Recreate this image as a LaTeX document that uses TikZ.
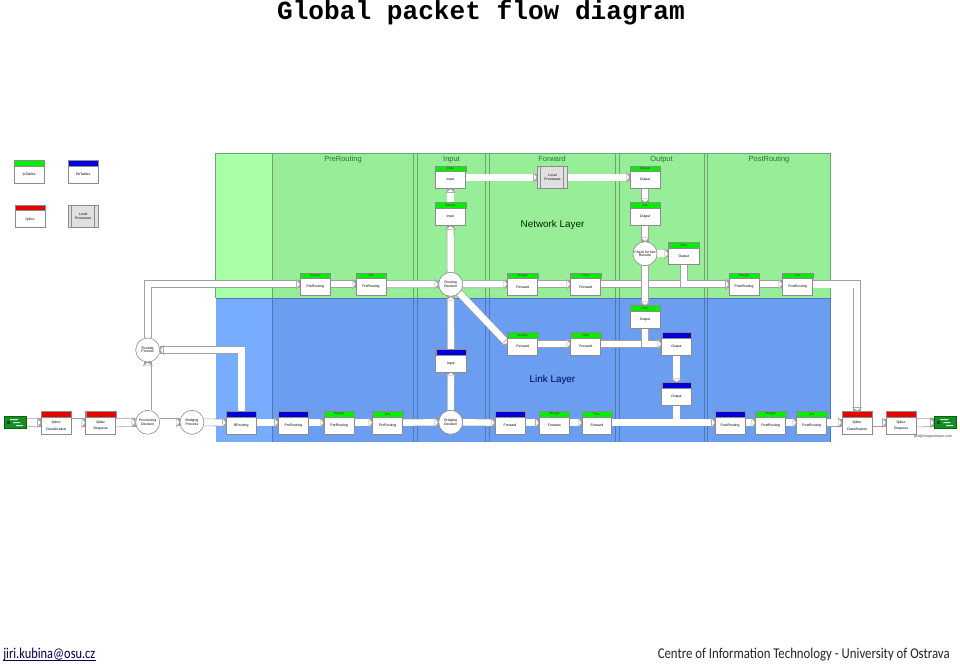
\documentclass[tikz,border=0pt]{standalone}
\usepackage{fontspec}
\usepackage{graphicx}
\setmainfont{Liberation Sans}
\newfontfamily\titlefont{Liberation Mono}
\newfontfamily\handfont{Carlito}
\usetikzlibrary{arrows.meta,calc}
\pgfdeclarelayer{bglayer}
\pgfdeclarelayer{flowlayer}
\pgfsetlayers{bglayer,flowlayer,main}
\definecolor{gbar}{HTML}{00F000}
\definecolor{bbar}{HTML}{0000D8}
\definecolor{rbar}{HTML}{E80000}
\definecolor{netfill}{HTML}{98EE98}
\definecolor{netlight}{HTML}{A8FFA8}
\definecolor{linkfill}{HTML}{6B9EF0}
\definecolor{linklight}{HTML}{78ACFF}
\definecolor{frameg}{HTML}{6FA56F}
\definecolor{frameb}{HTML}{4F78B8}
\definecolor{edgegray}{HTML}{8C8C8C}
\definecolor{flowgray}{HTML}{A0A0A0}
\definecolor{nicgreen}{HTML}{1A8A2A}
\definecolor{captiong}{HTML}{2F6A3A}
\newcommand{\fs}[1]{\fontsize{#1}{#1}\selectfont}
\tikzset{
  x=0.75pt,y=-0.75pt,
  pxbox/.style={draw=edgegray,line width=0.45pt,fill=white,inner sep=0pt,outer sep=0pt,align=center,font=\fs{2.6}},
  hdrbar/.style={draw=edgegray,line width=0.3pt,inner sep=0pt,outer sep=0pt,font=\fs{2.4},text=black!75},
  roundnode/.style={circle,draw=edgegray,line width=0.45pt,fill=white,inner sep=0pt,outer sep=0pt,minimum size=18pt,align=center,font=\fs{2.6}},
  coltitle/.style={font=\fs{5.6},text=captiong,inner sep=0pt,anchor=base},
  layertitle/.style={font=\fs{7.4},inner sep=0pt},
  flowtip/.style={-{Triangle[length=3pt,width=8pt,fill=white,color=flowgray,line width=0.35pt]}}
}
\newcommand{\pfbox}[8]{%
  \node[pxbox,minimum width={(#4-#2)*0.75pt},minimum height={(#5-#3)*0.75pt}] (#1) at ({(#2+#4)/2},{(#3+#5)/2}) {};
  \node[hdrbar,fill=#6,minimum width={(#4-#2)*0.75pt},minimum height=4.2pt,anchor=north] (#1h) at (#1.north) {#7};
  \node[font=\fs{2.6},align=center,inner sep=0pt] (#1t) at ($(#1h.south)!0.5!(#1.south)$) {#8};
}
\newcommand{\lpbox}[6]{%
  \node[pxbox,fill=black!12,minimum width={(#4-#2)*0.75pt},minimum height={(#5-#3)*0.75pt}] (#1) at ({(#2+#4)/2},{(#3+#5)/2}) {#6};
  \draw[edgegray,line width=0.45pt] ($(#1.north west)+(3.2,0)$) -- ($(#1.south west)+(3.2,0)$)
     ($(#1.north east)+(-4.2,0)$) -- ($(#1.south east)+(-4.2,0)$);
}
\newcommand{\flow}[2][6.6]{%
  \begin{pgfonlayer}{flowlayer}
    \draw[flowgray,line width={(#1+1)*0.75pt},line join=miter] #2;
    \draw[white,line width={(#1-0.2)*0.75pt},line join=miter,flowtip] #2;
  \end{pgfonlayer}
}
\begin{document}
\begin{tikzpicture}
\useasboundingbox (0,0) rectangle (960,666);
% backgrounds
\begin{pgfonlayer}{bglayer}
\fill[white] (0,0) rectangle (960,666);
\fill[netlight] (215.5,153.3) rectangle (272.7,298);
\fill[netfill] (272.7,153.3) rectangle (830.5,298);
\fill[linklight] (215.5,298) rectangle (272.7,441.7);
\fill[linkfill] (272.7,298) rectangle (830.5,441.7);
\foreach \xa in {272.7,413.7,417.3,485.7,489.3,615.7,619.3,704.3,707.7}{
  \draw[frameg,line width=0.4pt] (\xa,153.3) -- (\xa,298);
  \draw[frameb,line width=0.4pt] (\xa,298) -- (\xa,441.7);
}
\draw[frameg,line width=0.5pt] (215.5,298) -- (215.5,153.3) -- (830.5,153.3) -- (830.5,298);
\draw[frameb,line width=0.7pt] (215.5,298) -- (830.5,298) (830.5,298) -- (830.5,441.7);
\end{pgfonlayer}
% title and captions
\node[font=\titlefont\bfseries\fs{19.6},inner sep=0pt,anchor=base] (ttl) at (481,19.5) {Global packet flow diagram};
\node[coltitle] (c1) at (343,162) {PreRouting};
\node[coltitle] (c2) at (451.5,162) {Input};
\node[coltitle] (c3) at (552,162) {Forward};
\node[coltitle] (c4) at (661.5,162) {Output};
\node[coltitle] (c5) at (769,162) {PostRouting};
\node[layertitle,text=black!85!green] (nl) at (552.5,225) {Network Layer};
\node[layertitle,text=blue!35!black] (ll) at (552.5,380) {Link Layer};
\node[font=\fs{2.7},inner sep=0pt,text=black!75] (mail) at (933,436.3) {phil@imagestream.com};
% legend
\pfbox{lgip}{14.3}{160.3}{44}{183}{gbar}{}{IpTables}
\pfbox{lgeb}{68.3}{160.3}{98}{183}{bbar}{}{EbTables}
\pfbox{lgq}{15.3}{205}{45}{227.7}{rbar}{}{Qdisc}
\lpbox{lglp}{68.3}{205}{98}{227.7}{Local\\Processes}
% network layer
\pfbox{infilt}{435.3}{166}{465.7}{188.7}{gbar}{Filter}{Input}
\pfbox{inmang}{435.3}{202.7}{465.7}{225.5}{gbar}{Mangle}{Input}
\lpbox{lproc}{537.3}{166}{567.7}{188.7}{Local\\Processes}
\pfbox{outmang}{630}{166}{660}{188.7}{gbar}{Mangle}{Output}
\pfbox{outnat}{630}{202.7}{660}{225.5}{gbar}{Nat}{Output}
\node[roundnode] (reroute) at (645,253.7) {Check for Net\\Reroute};
\pfbox{outfilt}{668.7}{242.3}{699}{264.7}{gbar}{Filter}{Output}
\pfbox{premang}{300.3}{273}{330.5}{295.5}{gbar}{Mangle}{PreRouting}
\pfbox{prenat}{356}{273}{386}{295.5}{gbar}{Nat}{PreRouting}
\node[roundnode] (rdec) at (450.7,284.3) {Routing\\Decision};
\pfbox{fwmang}{507.7}{273}{537.7}{295.5}{gbar}{Mangle}{Forward}
\pfbox{fwfilt}{570.7}{273}{600.7}{295.5}{gbar}{Filter}{Forward}
\pfbox{postmang}{729.3}{273}{759}{295.5}{gbar}{Mangle}{PostRouting}
\pfbox{postnat}{782.7}{273}{812.7}{295.5}{gbar}{Nat}{PostRouting}
% link layer
\pfbox{lofilt}{630}{305.7}{660}{328}{gbar}{Filter}{Output}
\pfbox{lfmang}{507.7}{332.7}{537.7}{355}{gbar}{Mangle}{Forward}
\pfbox{lffilt}{570.7}{332.7}{600.7}{355}{gbar}{Filter}{Forward}
\pfbox{lout}{661.7}{332.7}{691.3}{355}{bbar}{}{Output}
\pfbox{lout2}{661.7}{382.7}{691.3}{405.3}{bbar}{}{Output}
\pfbox{linp}{435.7}{349.7}{466}{372}{bbar}{}{Input}
\node[roundnode] (rproc) at (147.7,350) {Routing\\Process};
% bottom row
\pfbox{qcl}{41.3}{411.3}{71}{434}{rbar}{}{Qdisc\\[2.4pt]Classification}
\pfbox{qde}{85.7}{411.3}{115.7}{434}{rbar}{}{Qdisc\\[2.4pt]Dequeue}
\node[roundnode] (pdec) at (147.7,422.3) {Processing\\Decision};
\node[roundnode] (bproc) at (192,422.3) {Bridging\\Process};
\pfbox{brout}{226.3}{411.3}{256.3}{434}{bbar}{}{BRouting}
\pfbox{bpre}{278.3}{411.3}{308.3}{434}{bbar}{}{PreRouting}
\pfbox{bmang}{324}{411.3}{354.3}{434}{gbar}{Mangle}{PreRouting}
\pfbox{bnat}{372.7}{411.3}{402.7}{434}{gbar}{Nat}{PreRouting}
\node[roundnode] (bdec) at (450.7,422.3) {Bridging\\Decision};
\pfbox{bfw}{495}{411.3}{525}{434}{bbar}{}{Forward}
\pfbox{bfwm}{539.3}{411.3}{569.3}{434}{gbar}{Mangle}{Forward}
\pfbox{bfwf}{582}{411.3}{611.7}{434}{gbar}{Filter}{Forward}
\pfbox{bpost}{715.3}{411.3}{745}{434}{bbar}{}{PostRouting}
\pfbox{bpom}{755.7}{411.3}{785.7}{434}{gbar}{Mangle}{PostRouting}
\pfbox{bpon}{796.7}{411.3}{826.7}{434}{gbar}{Nat}{PostRouting}
\pfbox{qcr}{842}{411.3}{872}{434}{rbar}{}{Qdisc\\[2.4pt]Classification}
\pfbox{qdr}{886.3}{411.3}{916}{434}{rbar}{}{Qdisc\\[2.4pt]Dequeue}
% NICs
\node[fill=nicgreen,draw=green!40!black,line width=0.3pt,minimum width=16.5pt,minimum height=9pt,inner sep=0pt] (nicl) at (15,422.5) {};
\node[fill=nicgreen,draw=green!40!black,line width=0.3pt,minimum width=16.5pt,minimum height=9pt,inner sep=0pt] (nicr) at (945.3,422.5) {};
\foreach \cx in {15,945.3}{
  \fill[white!75!green] (\cx-5,419) rectangle (\cx+3,420) (\cx-2,422) rectangle (\cx+5,423) (\cx+1,425) rectangle (\cx+8,426);
  \fill[black!70!green] (\cx-8,421) rectangle (\cx-5,424);
}
% flows
\flow[8]{(nicl.east) -- (qcl.west)}
\flow[8]{(qcl.east) -- (qde.west)}
\flow[8]{(qde.east) -- (pdec.west)}
\flow[7]{(pdec.east) -- (bproc.west)}
\flow[7]{(pdec.north) -- (rproc.south)}
\flow{(bproc.east) -- (brout.west)}
\flow{(brout.north) |- (rproc.east)}
\flow{(rproc.north) |- (premang.west)}
\flow{(premang.east) -- (prenat.west)}
\flow{(prenat.east) -- (rdec.west)}
\flow{(rdec.north) -- (inmang.south)}
\flow{(inmang.north) -- (infilt.south)}
\flow{(infilt.east) -- (lproc.west)}
\flow{(lproc.east) -- (outmang.west)}
\flow{(outmang.south) -- (outnat.north)}
\flow{(outnat.south) -- (reroute.north)}
\flow{(reroute.east) -- (reroute.east -| outfilt.west)}
\flow{(rdec.east) -- (fwmang.west)}
\flow{(fwmang.east) -- (fwfilt.west)}
\flow{(fwfilt.east) -- (postmang.west)}
\flow{(reroute.south) -- (lofilt.north)}
\flow{(outfilt.south) |- (postmang.west)}
\flow{(postmang.east) -- (postnat.west)}
\flow[7]{(postnat.east) -| (qcr.north)}
\flow{(bmang.east) -- (bnat.west)}
\flow{(brout.east) -- (bpre.west)}
\flow{(bpre.east) -- (bmang.west)}
\flow{(bnat.east) -- (bdec.west)}
\flow{(bdec.north) -- (linp.south)}
\flow{(linp.north) -- (rdec.south)}
\flow{(rdec.south east) -- (lfmang.west)}
\flow{(lfmang.east) -- (lffilt.west)}
\flow{(lffilt.east) -- (lout.west)}
\flow{(lofilt.south) |- (lout.west)}
\flow{(lout.south) -- (lout2.north)}
\flow{(lout2.south) |- (bpost.west)}
\flow{(bdec.east) -- (bfw.west)}
\flow{(bfw.east) -- (bfwm.west)}
\flow{(bfwm.east) -- (bfwf.west)}
\flow{(bfwf.east) -- (bpost.west)}
\flow{(bpost.east) -- (bpom.west)}
\flow{(bpom.east) -- (bpon.west)}
\flow[7]{(bpon.east) -- (qcr.west)}
\flow[7]{(qcr.east) -- (qdr.west)}
\flow[8]{(qdr.east) -- (nicr.west)}
% footer
\node[anchor=west,inner sep=0pt,text=blue!30!black,font=\handfont\fs{11.2}] (em) at (3,654.5) {\scalebox{0.83}[1]{jiri.kubina@osu.cz}};
\draw[blue!40!black,line width=0.5pt] (em.south west |- 0,660.5) -- (em.south east |- 0,660.5);
\node[anchor=east,inner sep=0pt,text=black!85,font=\handfont\fs{11.2}] (cit) at (950,654.5) {\scalebox{0.857}[1]{Centre of Information Technology - University of Ostrava}};
\end{tikzpicture}
\end{document}
